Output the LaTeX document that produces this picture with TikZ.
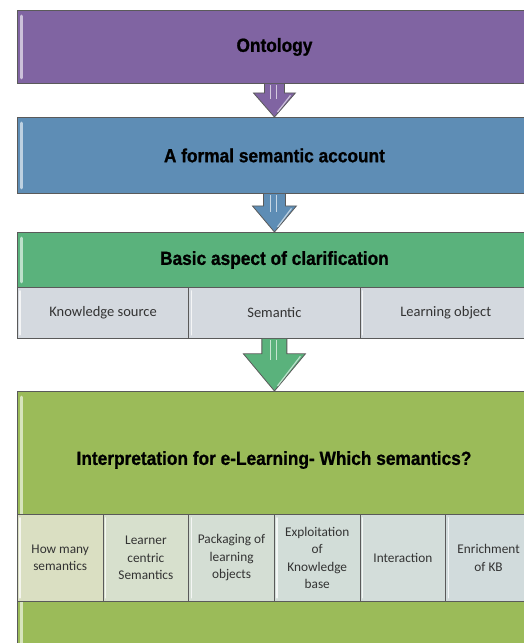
\documentclass[tikz,border=0pt]{standalone}
\usepackage{fontspec}
\setmainfont{Carlito}
\newfontfamily\headfont[FakeStretch=0.91, BoldFeatures={FakeBold=0.9}]{Liberation Sans}
\usetikzlibrary{calc}

\definecolor{ontopurple}{HTML}{8064A2}
\definecolor{formalblue}{HTML}{5E8DB5}
\definecolor{aspectgreen}{HTML}{5AB27C}
\definecolor{interplime}{HTML}{9BBB59}
\definecolor{bandline}{HTML}{5A5A5A}
\definecolor{aspectcell}{HTML}{D4D9DF}
\definecolor{celltext}{HTML}{333333}
\definecolor{limecellA}{HTML}{DADFC2}
\definecolor{limecellB}{HTML}{D7E0CD}
\definecolor{limecellC}{HTML}{D4DED4}
\definecolor{limecellD}{HTML}{D2DDD8}
\definecolor{limecellE}{HTML}{D3DDDA}
\definecolor{limecellF}{HTML}{D1DBDC}

\tikzset{
  band/.style={draw=bandline, line width=0.9pt, minimum width=514pt,
    inner sep=0pt, anchor=north west},
  headtext/.style={font=\headfont\bfseries\fontsize{19}{22}\selectfont, text=black},
  cell/.style={draw=bandline, line width=0.8pt, anchor=north west, align=center,
    inner sep=2pt, text=celltext},
  aspecttext/.style={font=\fontsize{14.5}{17}\selectfont},
  limetext/.style={font=\fontsize{13.3}{17.5}\selectfont},
  arrowline/.style={draw=bandline, line width=0.8pt, line join=miter},
}

% left-edge bevel highlight of a box
\newcommand\bevel[2]{%
  \draw[line width=3pt, line cap=round, #2]
    ($(#1.north west)+(4,6)$) -- ($(#1.south west)+(4,-6)$);}

% soft inner highlight on the left of a cell
\newcommand\cellbevel[1]{%
  \draw[line width=1.6pt, line cap=round, white, opacity=0.75]
    ($(#1.north west)+(3,4)$) -- ($(#1.south west)+(3,-4)$);}

% block arrow from the bottom of one box to the top of the next
% #1 source, #2 target, #3 shaft half width, #4 head half width,
% #5 shaft length, #6 fill colour
\newcommand\flowarrow[6]{%
  \draw[arrowline, fill=#6]
    ($(#1.south)+(-#3,0)$) -- ($(#1.south)+(-#3,#5)$) -- ($(#1.south)+(-#4,#5)$)
    -- (#2.north) -- ($(#1.south)+(#4,#5)$) -- ($(#1.south)+(#3,#5)$)
    -- ($(#1.south)+(#3,0)$);
  \draw[line width=1pt, #6!35!white]
    ($(#1.south)+(-3.5,1)$) -- ($(#1.south)+(-3.5,#5+6)$);
  \draw[line width=1pt, #6!35!white]
    ($(#1.south)+(2,1)$) -- ($(#1.south)+(2,#5+6)$);
  \draw[line width=1.2pt, #6!40!white]
    ($(#1.south)+(#4-5,#5+2.5)$) -- ($(#2.north)+(3,-5)$);}

\begin{document}
\begin{tikzpicture}[x=1pt, y=-1pt]
  \clip (0,0) rectangle (524,643);
  \fill[white] (0,0) rectangle (524,643);

  % main bands
  \node[band, fill=ontopurple, minimum height=73pt] (onto) at (17,10) {};
  \node[headtext] (ontolabel) at (onto.center) {Ontology};
  \bevel{onto}{ontopurple!40!white}

  \node[band, fill=formalblue, minimum height=76pt] (formal) at (17,117) {};
  \node[headtext] (formallabel) at (formal.center) {A formal semantic account};
  \bevel{formal}{formalblue!40!white}

  \node[band, fill=aspectgreen, minimum height=55pt] (aspect) at (17,232) {};
  \node[headtext] (aspectlabel) at (aspect.center) {Basic aspect of clarification};
  \bevel{aspect}{aspectgreen!40!white}

  % aspects of clarification
  \node[cell, fill=aspectcell, minimum width=171.33pt, minimum height=51pt,
    aspecttext] (ks) at (17,287) {Knowledge source};
  \node[cell, fill=aspectcell, minimum width=171.33pt, minimum height=51pt,
    aspecttext] (sem) at (188.33,287) {Semantic};
  \node[cell, fill=aspectcell, minimum width=171.33pt, minimum height=51pt,
    aspecttext] (lo) at (359.67,287) {Learning object};
  \cellbevel{ks}\cellbevel{sem}\cellbevel{lo}

  \node[band, fill=interplime, minimum height=270pt] (interp) at (17,391) {};
  \node[headtext] (interplabel) at (274,460)
    {Interpretation for e-Learning- Which semantics?};
  \bevel{interp}{interplime!40!white}

  % which semantics
  \node[cell, fill=limecellA, minimum width=85.67pt, minimum height=87pt,
    limetext] (c1) at (17,514) {How many\\semantics};
  \node[cell, fill=limecellB, minimum width=85.67pt, minimum height=87pt,
    limetext] (c2) at (102.67,514) {Learner\\centric\\Semantics};
  \node[cell, fill=limecellC, minimum width=85.67pt, minimum height=87pt,
    limetext] (c3) at (188.33,514) {Packaging of\\learning\\objects};
  \node[cell, fill=limecellD, minimum width=85.67pt, minimum height=87pt,
    limetext] (c4) at (274,514) {Exploitation\\of\\Knowledge\\base};
  \node[cell, fill=limecellE, minimum width=85.67pt, minimum height=87pt,
    limetext] (c5) at (359.67,514) {Interaction};
  \node[cell, fill=limecellF, minimum width=85.67pt, minimum height=87pt,
    limetext] (c6) at (445.33,514) {Enrichment\\of KB};
  \cellbevel{c1}\cellbevel{c2}\cellbevel{c3}
  \cellbevel{c4}\cellbevel{c5}\cellbevel{c6}

  % arrows between the bands
  \flowarrow{onto}{formal}{10}{21}{9}{ontopurple}
  \flowarrow{formal}{aspect}{11}{22}{12}{formalblue}
  \flowarrow{sem}{interp}{12.5}{31}{15}{aspectgreen}
\end{tikzpicture}
\end{document}
